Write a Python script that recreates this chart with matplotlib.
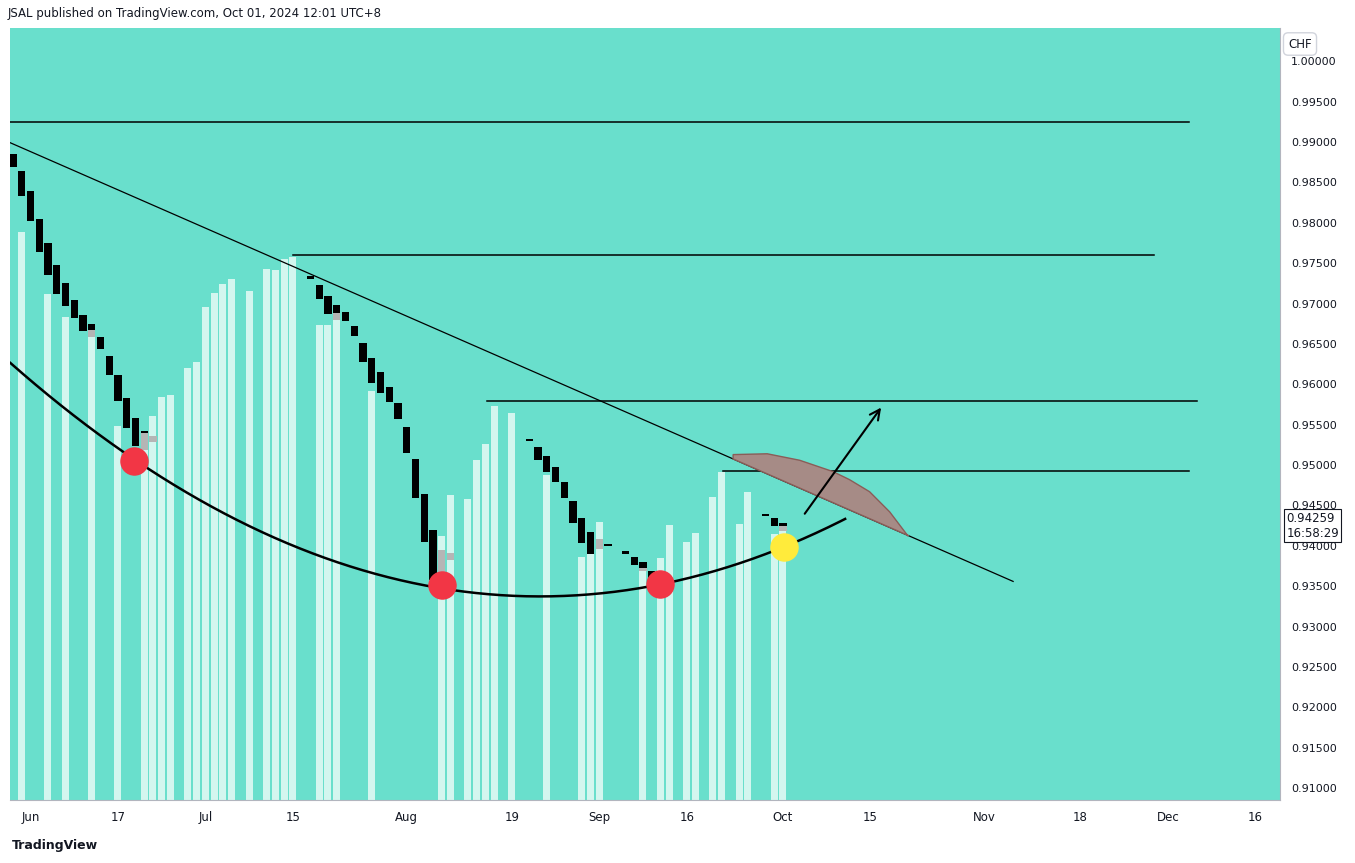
import numpy as np
import matplotlib.pyplot as plt
from matplotlib.patches import FancyArrowPatch, Polygon

# bar index 0 = Jun 3 2024 (trading days)
black_idx = [-2, -1, 0, 1, 2, 3, 4, 5, 6, 7, 8, 9, 10, 11, 12, 13,
             32, 33, 34, 35, 36, 37, 38, 39, 40, 41, 42, 43, 44, 45, 46,
             57, 58, 59, 60, 61, 62, 63, 64, 66, 68, 69, 70, 71, 84, 85, 86]
black_hi = [0.9885, 0.9864, 0.9839, 0.9805, 0.9775, 0.9748, 0.9725, 0.9704, 0.9686, 0.9675, 0.9659, 0.9635, 0.9612, 0.9583, 0.9558, 0.9542,
            0.9734, 0.9723, 0.9709, 0.9698, 0.9690, 0.9672, 0.9651, 0.9633, 0.9615, 0.9597, 0.9577, 0.9547, 0.9508, 0.9464, 0.9420,
            0.9532, 0.9522, 0.9511, 0.9498, 0.9479, 0.9456, 0.9435, 0.9417, 0.9402, 0.9394, 0.9386, 0.9380, 0.9369, 0.9439, 0.9435, 0.9428]
black_lo = [0.9869, 0.9833, 0.9802, 0.9764, 0.9735, 0.9712, 0.9697, 0.9682, 0.9666, 0.9667, 0.9644, 0.9612, 0.9579, 0.9546, 0.9524, 0.9540,
            0.9730, 0.9706, 0.9687, 0.9688, 0.9678, 0.9660, 0.9628, 0.9602, 0.9589, 0.9578, 0.9557, 0.9515, 0.9459, 0.9405, 0.9358,
            0.9530, 0.9506, 0.9491, 0.9479, 0.9459, 0.9428, 0.9404, 0.9390, 0.9400, 0.9390, 0.9376, 0.9373, 0.9358, 0.9437, 0.9425, 0.9425]

gray_idx = [7, 13, 14, 35, 47, 48, 65, 70, 86]
gray_hi = [0.9667, 0.9540, 0.9536, 0.9688, 0.9395, 0.9391, 0.9409, 0.9373, 0.9425]
gray_lo = [0.9659, 0.9519, 0.9529, 0.9680, 0.9364, 0.9383, 0.9396, 0.9369, 0.9418]

col_idx = [-1, 2, 4, 7, 10, 13, 14, 15, 16, 18, 19, 20, 21, 22, 23, 25, 27, 28, 29, 30,
           33, 34, 35, 39, 47, 48, 50, 51, 52, 53, 55, 59, 63, 64, 65, 70,
           72, 73, 75, 76, 78, 79, 81, 82, 85, 86]
col_top = [0.9789, 0.9712, 0.9683, 0.9659, 0.9548, 0.9519, 0.9561, 0.9584, 0.9587, 0.9620, 0.9628, 0.9696, 0.9713, 0.9724, 0.9730, 0.9716, 0.9743, 0.9742, 0.9755, 0.9758,
           0.9673, 0.9673, 0.9680, 0.9592, 0.9412, 0.9463, 0.9458, 0.9506, 0.9526, 0.9573, 0.9565, 0.9488, 0.9386, 0.9390, 0.9430, 0.9369,
           0.9385, 0.9426, 0.9405, 0.9416, 0.9461, 0.9491, 0.9427, 0.9467, 0.9415, 0.9418]

# drawings
hlines = [(-2.3, 132.4, 0.9925), (30, 128.4, 0.9760), (52.2, 133.3, 0.9579), (79.1, 132.4, 0.9493)]
trend_x = [-2.3, 112.3]
trend_y = [0.9899, 0.9356]
arc_x = [-2.3, 11.8, 47.0, 58.2, 71.9, 86.1, 93.1]
arc_y = [0.9626, 0.9508, 0.9348, 0.9338, 0.9350, 0.9399, 0.9434]
dots_x = [11.8, 47.0, 71.9]
dots_y = [0.9505, 0.9351, 0.9353]
yellow_x, yellow_y = 86.1, 0.9399
shade_top_x = [80.3, 84.2, 87.9, 91.7, 93.6, 95.9, 98.2, 100.3]
shade_top_y = [0.9513, 0.9514, 0.9506, 0.9492, 0.9482, 0.9467, 0.9442, 0.9412]

tick_pos = [0, 10, 20, 30, 43, 55, 65, 75, 86, 96, 109, 120, 130, 140]
tick_lab = ["Jun", "17", "Jul", "15", "Aug", "19", "Sep", "16", "Oct", "15", "Nov", "18", "Dec", "16"]
y_ticks = np.arange(0.91, 1.0001, 0.005)

fig = plt.figure(figsize=(13.55, 8.63), dpi=100)
ax = fig.add_axes([10 / 1355, 63 / 863, 1270 / 1355, 772 / 863])
ax.set_facecolor("#69dfcc")
ymin, ymax = 0.90854, 1.00411
ax.set_xlim(-2.34, 142.8)
ax.set_ylim(ymin, ymax)

ax.bar(col_idx, np.array(col_top) - ymin, bottom=ymin, width=0.8, color="#d3f6ef", zorder=2)
ax.bar(black_idx, np.array(black_hi) - np.array(black_lo), bottom=black_lo, width=0.85, color="black", zorder=3)
ax.bar(gray_idx, np.array(gray_hi) - np.array(gray_lo), bottom=gray_lo, width=0.85, color="#b5b5b5", zorder=3)

for x0, x1, y in hlines:
    ax.plot([x0, x1], [y, y], color="black", lw=1.1, zorder=4)
ax.plot(trend_x, trend_y, color="black", lw=0.9, zorder=4)

coef = np.polyfit(arc_x, arc_y, 2)
xs = np.linspace(arc_x[0], arc_x[-1], 200)
ax.plot(xs, np.polyval(coef, xs), color="black", lw=1.8, zorder=5)

# shaded region between arc and trendline
tx = np.array(shade_top_x)
ty_line = np.interp(tx[::-1], trend_x, trend_y)
poly = list(zip(shade_top_x, shade_top_y)) + list(zip(tx[::-1], ty_line))
ax.add_patch(Polygon(poly, closed=True, facecolor="#a68b86", edgecolor="#8a5d58", lw=1, zorder=4))

ax.add_patch(FancyArrowPatch((88.3, 0.9437), (97.4, 0.9574), arrowstyle="->", mutation_scale=18,
                             color="black", lw=1.5, zorder=6))

ax.scatter(dots_x, dots_y, s=380, color="#f23645", zorder=6)
ax.scatter([yellow_x], [yellow_y], s=380, color="#ffeb3b", zorder=6)

ax.set_xticks(tick_pos)
ax.set_xticklabels(tick_lab, fontsize=8.5, color="#131722")
ax.yaxis.tick_right()
ax.set_yticks(y_ticks)
ax.set_yticklabels([f"{v:.5f}" for v in y_ticks], fontsize=8, color="#131722")
ax.tick_params(length=0, pad=8)
for s in ["top", "left"]:
    ax.spines[s].set_visible(False)
ax.spines["right"].set_color("#b2b5be")
ax.spines["bottom"].set_color("#b2b5be")

ax.text(1.005, 0.9425, "0.94259\n16:58:29", transform=ax.get_yaxis_transform(), fontsize=8.5,
        va="center", ha="left", color="#131722",
        bbox=dict(boxstyle="square,pad=0.2", fc="white", ec="#131722", lw=0.8))
fig.text(1300 / 1355, 1 - 44 / 863, "CHF", fontsize=8.5, color="#131722", ha="center", va="center",
         bbox=dict(boxstyle="round,pad=0.4", fc="white", ec="#d1d4dc"))
fig.text(8 / 1355, 1 - 14 / 863, "JSAL published on TradingView.com, Oct 01, 2024 12:01 UTC+8",
         fontsize=8.5, color="#131722", va="center")
fig.text(12 / 1355, 1 - 845 / 863, "TradingView", fontsize=9, color="#131722", va="center", fontweight="bold")

fig.savefig("out.png", dpi=100)
